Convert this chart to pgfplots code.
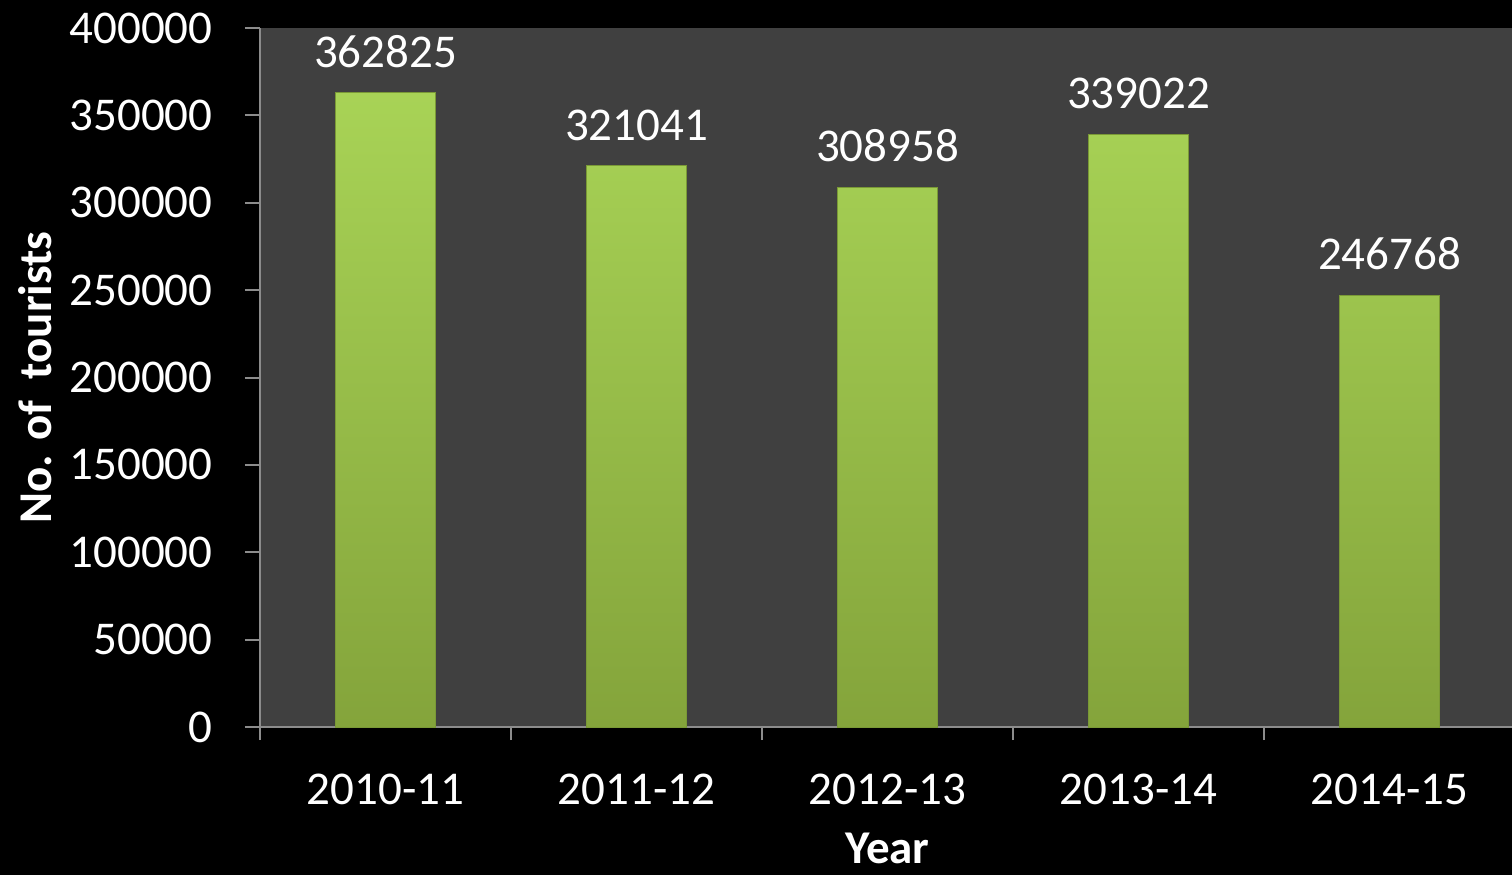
\documentclass[border=0pt]{standalone}
\usepackage{fontspec}
\setmainfont{Carlito}
\usepackage{pgfplots}
\pgfplotsset{compat=1.18}

\definecolor{plotbg}{HTML}{404040}
\definecolor{axisgray}{HTML}{8C8C8C}
\definecolor{bartop}{HTML}{A8D356}
\definecolor{barbot}{HTML}{84A43B}
\definecolor{baredge}{HTML}{7A9936}

\newcommand{\chartfont}{\fontsize{23.5}{28}\selectfont}

\begin{document}
\begin{tikzpicture}
\fill[black] (-130pt,-74pt) rectangle (626pt,363.5pt);
\useasboundingbox (-130pt,-74pt) rectangle (626pt,363.5pt);
\begin{axis}[
    at={(0,0)}, anchor=south west,
    scale only axis, width=627.5pt, height=349.5pt,
    xmin=-0.5, xmax=4.5, ymin=0, ymax=400000,
    axis background/.style={fill=plotbg},
    axis x line*=bottom, axis y line*=left,
    axis line style={-, draw=axisgray, line width=1pt},
    ytick={0,50000,...,400000},
    xtick={0,...,4},
    xticklabels={2010-11,2011-12,2012-13,2013-14,2014-15},
    minor xtick={-0.5,0.5,...,4.5},
    major x tick style={draw=none},
    tick align=outside,
    major tick length=7.5pt, minor tick length=6.5pt,
    every tick/.style={draw=axisgray, line width=1pt},
    minor tick style={draw=axisgray, line width=1pt},
    scaled y ticks=false,
    /pgf/number format/.cd, fixed, 1000 sep={}, assume math mode=true,
    /pgfplots/.cd,
    ticklabel style={text=white, font=\chartfont, inner sep=0pt},
    yticklabel style={anchor=east, xshift=-16pt},
    xticklabel style={anchor=north, yshift=-16pt},
    xlabel={\textbf{Year}},
    ylabel={\textbf{No. of\ \ tourists}},
    xlabel style={text=white, font=\chartfont, anchor=center,
        at={([yshift=-60.5pt]axis description cs:0.5,0)}},
    ylabel style={text=white, font=\chartfont, anchor=center,
        at={([xshift=-112.5pt]axis description cs:0,0.5)}},
    ybar, bar width=50pt,
    nodes near coords,
    every node near coord/.append style={text=white, font=\chartfont,
        inner sep=0pt, anchor=south, yshift=12.5pt},
]
\addplot[draw=baredge, line width=0.5pt, top color=bartop, bottom color=barbot]
    table {
    x y
    0 362825
    1 321041
    2 308958
    3 339022
    4 246768
    };
\end{axis}
\end{tikzpicture}
\end{document}
